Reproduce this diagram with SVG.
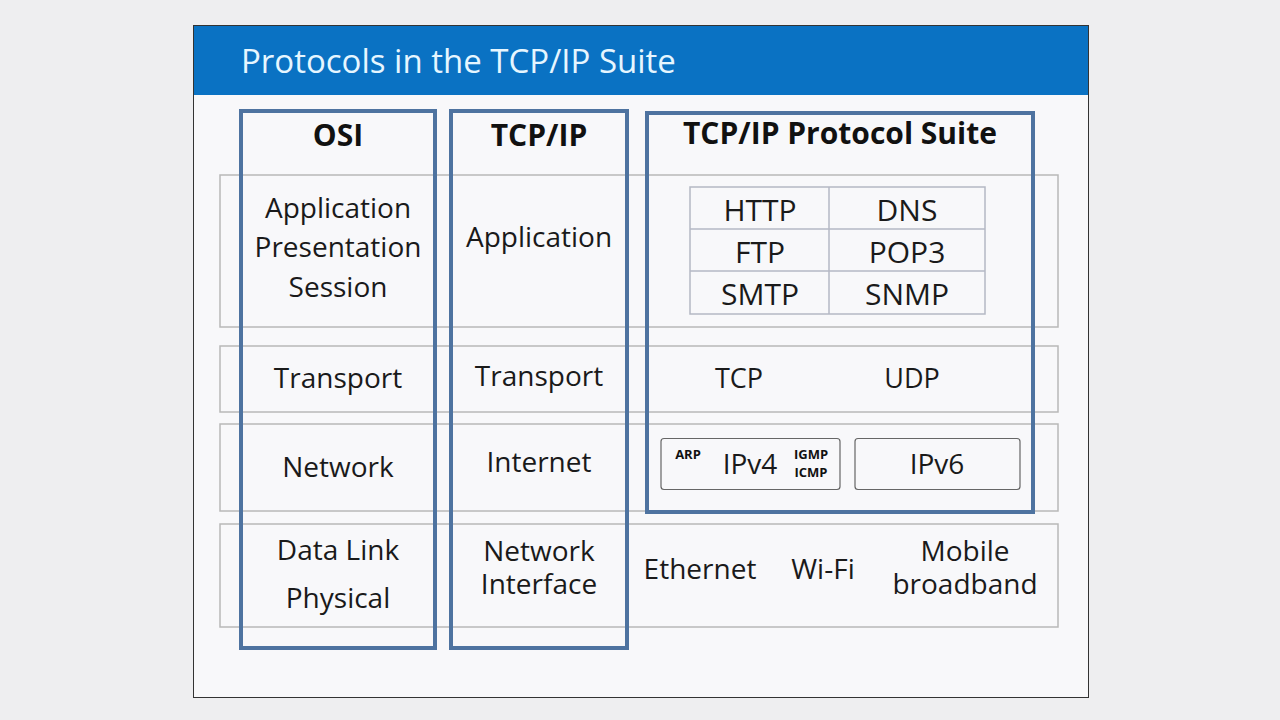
<svg xmlns="http://www.w3.org/2000/svg" width="1280" height="720" viewBox="0 0 1280 720">
<style>
.t{font-family:"Open Sans","Noto Sans",sans-serif;font-size:28px;fill:#1a1a1a;text-anchor:middle}
.g{font-family:"Open Sans","Noto Sans",sans-serif;font-size:30px;fill:#1a1a1a;text-anchor:middle}
.b{font-family:"Open Sans","Noto Sans",sans-serif;font-weight:bold;font-size:30px;fill:#111;text-anchor:middle}
.s{font-family:"Open Sans","Noto Sans",sans-serif;font-weight:bold;font-size:13px;fill:#111;text-anchor:middle}
.row{fill:none;stroke:#b8b8b8;stroke-width:1.5}
.col{fill:none;stroke:#4e73a0;stroke-width:4}
.cell{fill:none;stroke:#b4b8c4;stroke-width:1.5}
.ip{fill:none;stroke:#666;stroke-width:1.2}
</style>
<rect width="1280" height="720" fill="#eeeef0"/>
<g id="slide">
<rect x="193.5" y="25.5" width="895" height="672" fill="#f8f8fa" stroke="#333" stroke-width="1"/>
<rect x="194" y="26" width="894" height="69" fill="#0a72c3"/>
<text x="241" y="73" font-family="'Open Sans','Noto Sans',sans-serif" font-size="33" fill="#e6f6ff">Protocols in the TCP/IP Suite</text>
</g>
<g id="rows">
<rect class="row" x="220" y="175" width="838" height="152"/>
<rect class="row" x="220" y="346" width="838" height="66"/>
<rect class="row" x="220" y="424" width="838" height="87"/>
<rect class="row" x="220" y="524" width="838" height="103"/>
</g>
<g id="osi">
<rect class="col" x="241" y="111" width="194" height="537"/>
<text class="b" x="338" y="146">OSI</text>
<text class="t" x="338" y="218">Application</text>
<text class="t" x="338" y="257">Presentation</text>
<text class="t" x="338" y="297">Session</text>
<text class="t" x="338" y="388">Transport</text>
<text class="t" x="338" y="477">Network</text>
<text class="t" x="338" y="560">Data Link</text>
<text class="t" x="338" y="608">Physical</text>
</g>
<g id="tcpip">
<rect class="col" x="451" y="111" width="176" height="537"/>
<text class="b" x="539" y="146">TCP/IP</text>
<text class="t" x="539" y="247">Application</text>
<text class="t" x="539" y="386">Transport</text>
<text class="t" x="539" y="472">Internet</text>
<text class="t" x="539" y="561">Network</text>
<text class="t" x="539" y="594">Interface</text>
</g>
<g id="suite">
<rect class="col" x="647" y="113" width="386" height="399"/>
<text class="b" x="840" y="144">TCP/IP Protocol Suite</text>
</g>
<g id="app-protocols">
<rect class="cell" x="690" y="187" width="295" height="127"/>
<line class="cell" x1="690" y1="229" x2="985" y2="229"/>
<line class="cell" x1="690" y1="271" x2="985" y2="271"/>
<line class="cell" x1="829" y1="187" x2="829" y2="314"/>
<text class="g" x="760" y="221">HTTP</text>
<text class="g" x="907" y="221">DNS</text>
<text class="g" x="760" y="263">FTP</text>
<text class="g" x="907" y="263">POP3</text>
<text class="g" x="760" y="305">SMTP</text>
<text class="g" x="907" y="305">SNMP</text>
</g>
<g id="transport-protocols">
<text class="t" x="739" y="388" style="font-size:27px">TCP</text>
<text class="t" x="912" y="388" style="font-size:27px">UDP</text>
</g>
<g id="ipv4">
<rect class="ip" x="661" y="438.5" width="179" height="51" rx="3"/>
<text class="s" x="688" y="459">ARP</text>
<text class="t" x="750" y="474">IPv4</text>
<text class="s" x="811" y="459">IGMP</text>
<text class="s" x="811" y="477">ICMP</text>
</g>
<g id="ipv6">
<rect class="ip" x="855" y="438.5" width="165" height="51" rx="3"/>
<text class="t" x="937" y="474">IPv6</text>
</g>
<g id="link-protocols">
<text class="t" x="700" y="579">Ethernet</text>
<text class="t" x="823" y="579">Wi-Fi</text>
<text class="t" x="965" y="561">Mobile</text>
<text class="t" x="965" y="594">broadband</text>
</g>
<g id="connectors"></g>
</svg>
